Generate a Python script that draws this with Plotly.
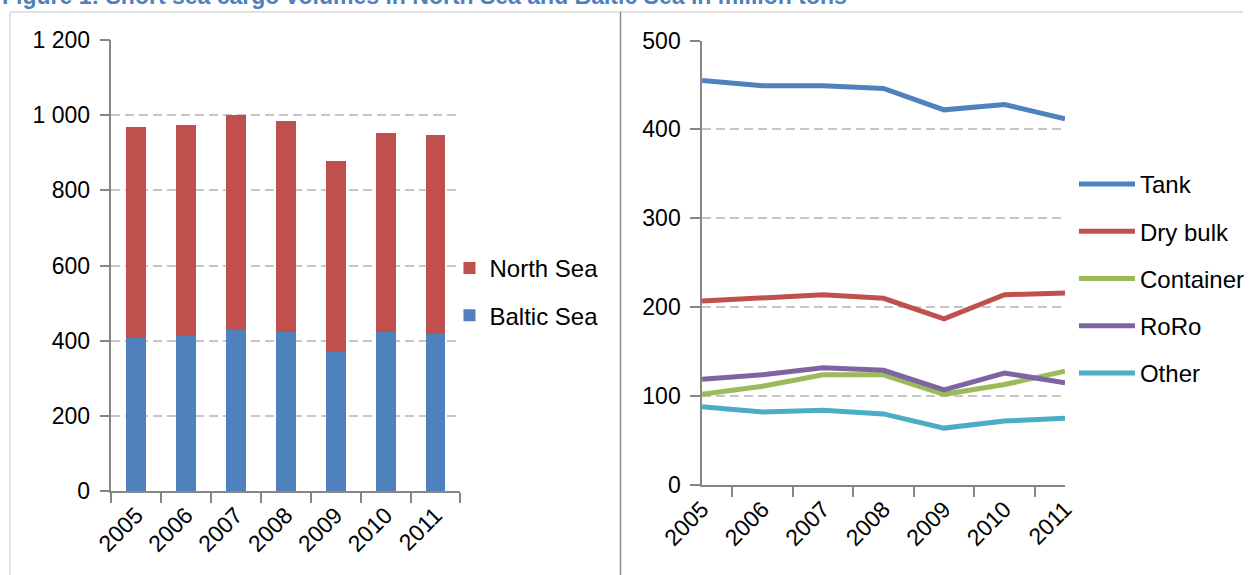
import plotly.graph_objects as go

years = ["2005", "2006", "2007", "2008", "2009", "2010", "2011"]

baltic_sea = [408, 413, 429, 424, 371, 424, 418]
north_sea = [561, 561, 571, 561, 506, 528, 528]

tank = [455, 449, 449, 446, 422, 428, 412]
dry_bulk = [207, 211, 214, 210, 187, 214, 216]
container = [102, 111, 124, 124, 102, 113, 128]
roro = [119, 124, 132, 129, 107, 126, 115]
other = [88, 82, 84, 80, 64, 72, 75]

title_text = "Figure 1: Short sea cargo volumes in North Sea and Baltic Sea in million tons"

W, H = 1250, 575
FONT = "Liberation Sans, Arial, sans-serif"
AXIS_COL = "#868686"
GRID_COL = "#C6C6C6"


def px(x):
    return x / W


def py(y):
    return 1 - y / H


fig = go.Figure()

fig.add_trace(go.Bar(x=years, y=baltic_sea, name="Baltic Sea", marker_color="#4F81BD",
                     marker_line_width=0, xaxis="x", yaxis="y", legend="legend",
                     legendgroup="b", legendrank=2))
fig.add_trace(go.Bar(x=years, y=north_sea, name="North Sea", marker_color="#C0504D",
                     marker_line_width=0, xaxis="x", yaxis="y", legend="legend",
                     legendgroup="n", legendrank=1))

series = [("Tank", tank, "#4F81BD"), ("Dry bulk", dry_bulk, "#C0504D"),
          ("Container", container, "#9BBB59"), ("RoRo", roro, "#8064A2"),
          ("Other", other, "#4BACC6")]
for name, vals, col in series:
    fig.add_trace(go.Scatter(x=years, y=vals, name=name, mode="lines",
                             line=dict(color=col, width=5), xaxis="x2", yaxis="y2",
                             legend="legend2", legendgroup=name))

axis_common = dict(showline=True, linecolor=AXIS_COL, linewidth=1.5, automargin=False,
                   ticks="outside", tickcolor=AXIS_COL, tickwidth=1.5, ticklen=10,
                   tickfont=dict(family=FONT, size=23, color="#000000"), zeroline=False)

grid = dict(showgrid=True, gridcolor=GRID_COL, gridwidth=2, griddash="9px,5px")

fig.update_layout(
    template="none",
    width=W, height=H,
    margin=dict(l=0, r=0, t=0, b=0, pad=0),
    paper_bgcolor="white", plot_bgcolor="white",
    barmode="stack", bargap=0.6,
    separators=", ",
    font=dict(family=FONT, size=23, color="#000000"),
    xaxis=dict(domain=[px(112), px(463)], type="category", tickson="boundaries",
               tickangle=-45, showgrid=False, anchor="y", **axis_common),
    yaxis=dict(domain=[py(491), py(40)], range=[0, 1200], dtick=200,
               separatethousands=True, anchor="x",
               ticklabelstandoff=5, **grid, **axis_common),
    xaxis2=dict(domain=[px(706), px(1071)], type="category", tickson="boundaries",
                tickangle=-45, showgrid=False, anchor="y2", **axis_common),
    yaxis2=dict(domain=[py(485), py(40.5)], range=[0, 500], dtick=100,
                anchor="x2", ticklabelstandoff=5, **grid, **axis_common),
    legend=dict(x=px(452), y=py(246), xanchor="left", yanchor="top",
                traceorder="grouped", tracegroupgap=13,
                font=dict(family=FONT, size=24), bgcolor="rgba(0,0,0,0)", borderwidth=0),
    legend2=dict(x=px(1080), y=py(162), xanchor="left", yanchor="top",
                 traceorder="grouped", tracegroupgap=13, itemwidth=56,
                 font=dict(family=FONT, size=24), bgcolor="rgba(0,0,0,0)", borderwidth=0),
    showlegend=True,
)

fig.add_annotation(text="<b>" + title_text + "</b>", xref="paper", yref="paper",
                   x=0, y=py(11), xanchor="left", yanchor="bottom", showarrow=False,
                   font=dict(family=FONT, size=23, color="#4F81BD"))

# frame lines
fig.add_shape(type="line", xref="paper", yref="paper", x0=px(10), x1=1, y0=py(12), y1=py(12),
              line=dict(color="#D9D9D9", width=1.5))
fig.add_shape(type="line", xref="paper", yref="paper", x0=px(10), x1=px(10), y0=py(12), y1=0,
              line=dict(color="#D9D9D9", width=1.5))
fig.add_shape(type="line", xref="paper", yref="paper", x0=px(624), x1=px(624), y0=py(12), y1=0,
              line=dict(color="#8C8C8C", width=1.5))

fig.write_html("out.html")
